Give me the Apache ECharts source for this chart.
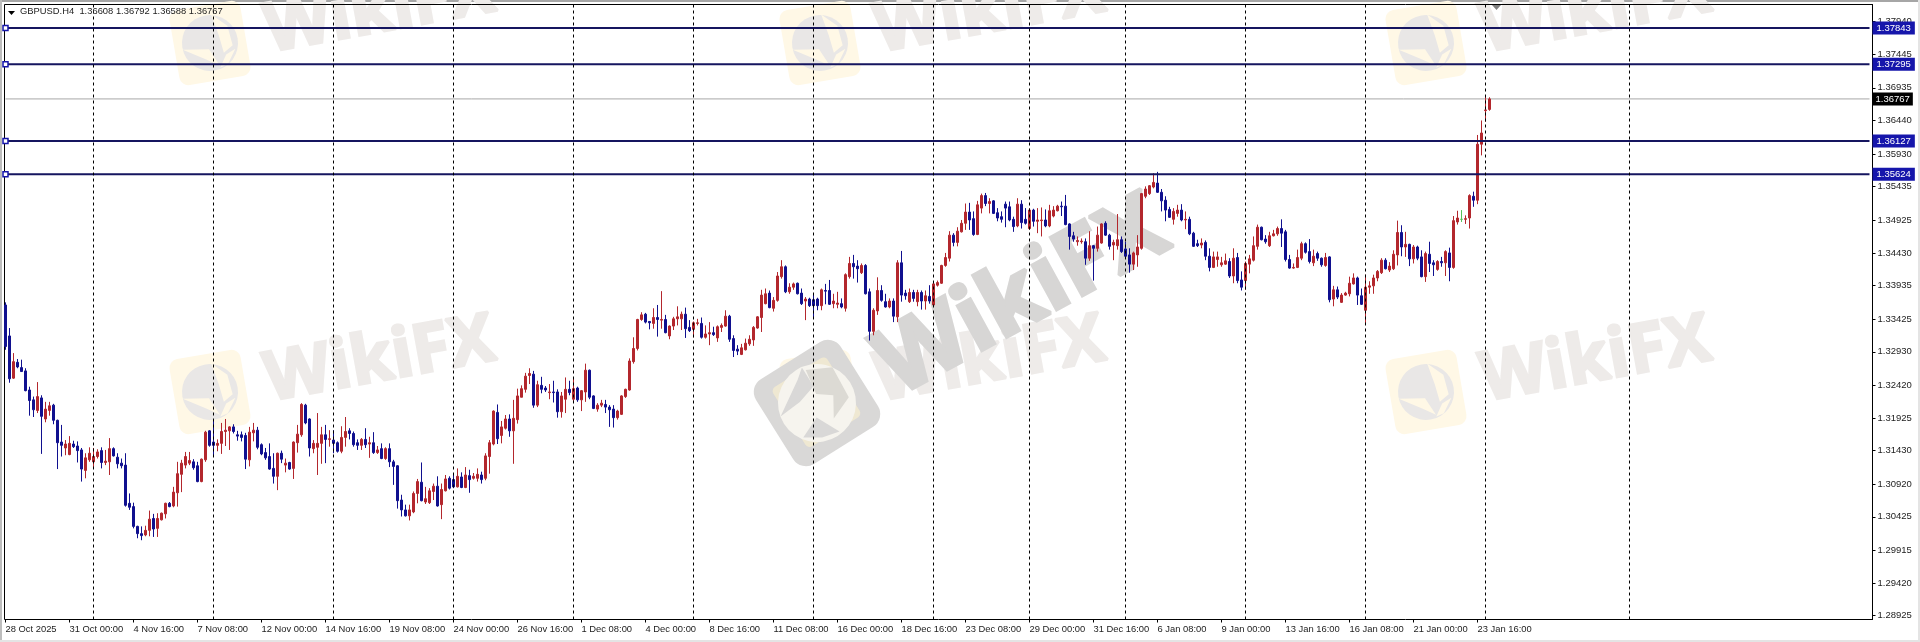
<!DOCTYPE html>
<html>
<head>
<meta charset="utf-8">
<title>GBPUSD.H4</title>
<script src="https://cdn.jsdelivr.net/npm/echarts@6/dist/echarts.min.js"></script>
<style>
  html, body { margin: 0; padding: 0; background: #fff; }
  #main { width: 1920px; height: 642px; }
</style>
</head>
<body>
<div id="main"></div>
<script>
// bars, left to right
const highs = [
1.3368,1.3329,1.3291,1.3282,1.3281,1.3268,1.3240,1.3225,1.3247,1.3227,
1.3217,1.3217,1.3214,1.3190,1.3182,1.3159,1.3165,1.3158,1.3157,1.3147,
1.3139,1.3148,1.3147,1.3145,1.3148,1.3144,1.3162,1.3148,1.3139,1.3131,
1.3139,1.3078,1.3064,1.3029,1.3028,1.3029,1.3052,1.3047,1.3048,1.3049,
1.3064,1.3065,1.3088,1.3126,1.3129,1.3141,1.3141,1.3130,1.3126,1.3131,
1.3173,1.3174,1.3190,1.3160,1.3185,1.3191,1.3180,1.3183,1.3173,1.3172,
1.3170,1.3179,1.3185,1.3179,1.3154,1.3147,1.3154,1.3139,1.3140,1.3143,
1.3131,1.3126,1.3157,1.3182,1.3215,1.3214,1.3192,1.3159,1.3200,1.3179,
1.3182,1.3174,1.3174,1.3157,1.3180,1.3194,1.3177,1.3172,1.3160,1.3162,
1.3177,1.3164,1.3171,1.3150,1.3154,1.3148,1.3154,1.3129,1.3121,1.3076,
1.3061,1.3061,1.3081,1.3100,1.3125,1.3088,1.3086,1.3093,1.3104,1.3093,
1.3106,1.3104,1.3109,1.3116,1.3110,1.3118,1.3114,1.3109,1.3116,1.3111,
1.3139,1.3159,1.3204,1.3213,1.3188,1.3197,1.3198,1.3220,1.3237,1.3242,
1.3261,1.3268,1.3264,1.3249,1.3255,1.3241,1.3244,1.3249,1.3236,1.3232,
1.3254,1.3249,1.3254,1.3240,1.3235,1.3275,1.3266,1.3227,1.3215,1.3220,
1.3220,1.3212,1.3212,1.3205,1.3227,1.3237,1.3283,1.3315,1.3343,1.3353,
1.3352,1.3339,1.3359,1.3364,1.3385,1.3349,1.3333,1.3346,1.3362,1.3354,
1.3360,1.3341,1.3339,1.3343,1.3345,1.3333,1.3338,1.3331,1.3333,1.3336,
1.3356,1.3349,1.3318,1.3303,1.3305,1.3313,1.3318,1.3332,1.3347,1.3387,
1.3389,1.3386,1.3376,1.3414,1.3432,1.3424,1.3397,1.3398,1.3398,1.3389,
1.3376,1.3375,1.3381,1.3375,1.3389,1.3396,1.3402,1.3381,1.3384,1.3374,
1.3412,1.3437,1.3440,1.3432,1.3427,1.3426,1.3389,1.3359,1.3406,1.3394,
1.3381,1.3374,1.3374,1.3432,1.3446,1.3387,1.3389,1.3387,1.3387,1.3386,
1.3386,1.3394,1.3400,1.3401,1.3425,1.3443,1.3476,1.3473,1.3482,1.3493,
1.3518,1.3519,1.3506,1.3522,1.3533,1.3534,1.3526,1.3523,1.3511,1.3506,
1.3521,1.3521,1.3498,1.3526,1.3523,1.3511,1.3511,1.3510,1.3511,1.3512,
1.3509,1.3516,1.3514,1.3516,1.3521,1.3531,1.3488,1.3475,1.3468,1.3465,
1.3465,1.3476,1.3455,1.3483,1.3488,1.3491,1.3472,1.3463,1.3502,1.3468,
1.3460,1.3450,1.3445,1.3470,1.3534,1.3544,1.3546,1.3564,1.3566,1.3540,
1.3529,1.3513,1.3511,1.3516,1.3517,1.3506,1.3498,1.3475,1.3463,1.3465,
1.3462,1.3450,1.3445,1.3445,1.3437,1.3442,1.3435,1.3450,1.3443,1.3415,
1.3430,1.3440,1.3468,1.3486,1.3483,1.3470,1.3475,1.3478,1.3483,1.3494,
1.3478,1.3440,1.3427,1.3448,1.3460,1.3459,1.3464,1.3448,1.3445,1.3436,
1.3443,1.3438,1.3393,1.3392,1.3382,1.3384,1.3407,1.3412,1.3407,1.3389,
1.3410,1.3400,1.3410,1.3417,1.3435,1.3435,1.3429,1.3447,1.3492,1.3485,
1.3475,1.3457,1.3455,1.3454,1.3447,1.3445,1.3460,1.3432,1.3432,1.3437,
1.3447,1.3451,1.3499,1.3507,1.3508,1.3500,1.3532,1.3536,1.3622,1.3644,1.3682,1.36792];

const lows = [
1.3296,1.3246,1.3252,1.3268,1.3263,1.3233,1.3196,1.3194,1.3200,1.3138,
1.3186,1.3196,1.3183,1.3115,1.3134,1.3136,1.3136,1.3147,1.3125,1.3096,
1.3101,1.3126,1.3118,1.3131,1.3116,1.3121,1.3106,1.3134,1.3116,1.3116,
1.3058,1.3053,1.3025,1.3010,1.3007,1.3013,1.3013,1.3012,1.3012,1.3037,
1.3040,1.3057,1.3057,1.3058,1.3080,1.3116,1.3121,1.3114,1.3095,1.3095,
1.3126,1.3149,1.3136,1.3142,1.3138,1.3150,1.3144,1.3169,1.3158,1.3157,
1.3115,1.3119,1.3157,1.3145,1.3136,1.3129,1.3114,1.3093,1.3083,1.3124,
1.3110,1.3114,1.3100,1.3140,1.3164,1.3183,1.3134,1.3139,1.3106,1.3123,
1.3124,1.3149,1.3139,1.3140,1.3139,1.3149,1.3160,1.3149,1.3144,1.3144,
1.3147,1.3132,1.3138,1.3138,1.3130,1.3129,1.3118,1.3091,1.3055,1.3043,
1.3043,1.3037,1.3048,1.3063,1.3066,1.3062,1.3062,1.3068,1.3058,1.3039,
1.3081,1.3084,1.3086,1.3087,1.3086,1.3086,1.3079,1.3099,1.3096,1.3093,
1.3098,1.3108,1.3151,1.3153,1.3154,1.3175,1.3164,1.3123,1.3184,1.3224,
1.3231,1.3244,1.3208,1.3209,1.3230,1.3232,1.3221,1.3216,1.3193,1.3193,
1.3200,1.3227,1.3217,1.3217,1.3203,1.3217,1.3221,1.3206,1.3202,1.3209,
1.3200,1.3179,1.3178,1.3190,1.3197,1.3223,1.3234,1.3275,1.3295,1.3340,
1.3336,1.3327,1.3328,1.3316,1.3328,1.3321,1.3312,1.3326,1.3333,1.3326,
1.3314,1.3323,1.3315,1.3333,1.3313,1.3313,1.3303,1.3317,1.3308,1.3323,
1.3331,1.3308,1.3285,1.3288,1.3288,1.3295,1.3302,1.3302,1.3328,1.3323,
1.3365,1.3359,1.3354,1.3369,1.3404,1.3382,1.3381,1.3387,1.3380,1.3364,
1.3341,1.3361,1.3343,1.3356,1.3356,1.3365,1.3364,1.3359,1.3359,1.3359,
1.3354,1.3404,1.3404,1.3398,1.3411,1.3380,1.3310,1.3318,1.3349,1.3369,
1.3360,1.3359,1.3338,1.3338,1.3369,1.3372,1.3367,1.3369,1.3362,1.3357,
1.3357,1.3366,1.3363,1.3392,1.3396,1.3422,1.3430,1.3453,1.3453,1.3474,
1.3478,1.3478,1.3469,1.3470,1.3503,1.3514,1.3503,1.3502,1.3491,1.3489,
1.3482,1.3491,1.3475,1.3482,1.3480,1.3486,1.3478,1.3483,1.3473,1.3468,
1.3482,1.3482,1.3497,1.3506,1.3499,1.3485,1.3448,1.3460,1.3454,1.3457,
1.3425,1.3431,1.3401,1.3445,1.3457,1.3469,1.3448,1.3432,1.3448,1.3443,
1.3436,1.3413,1.3417,1.3422,1.3448,1.3526,1.3531,1.3541,1.3534,1.3506,
1.3491,1.3496,1.3486,1.3498,1.3491,1.3479,1.3470,1.3452,1.3452,1.3450,
1.3432,1.3415,1.3420,1.3422,1.3422,1.3425,1.3405,1.3397,1.3397,1.3386,
1.3387,1.3412,1.3430,1.3448,1.3462,1.3457,1.3452,1.3468,1.3469,1.3452,
1.3430,1.3419,1.3419,1.3420,1.3432,1.3442,1.3427,1.3423,1.3431,1.3422,
1.3422,1.3368,1.3362,1.3373,1.3367,1.3378,1.3377,1.3395,1.3364,1.3364,
1.3336,1.3381,1.3381,1.3400,1.3411,1.3418,1.3414,1.3417,1.3424,1.3438,
1.3437,1.3423,1.3427,1.3432,1.3406,1.3399,1.3414,1.3408,1.3416,1.3422,
1.3408,1.3400,1.3419,1.3486,1.3490,1.3487,1.3480,1.3513,1.3517,1.3591,1.3642,1.36588];

const opens = [
1.3364,1.3317,1.3253,1.3277,1.3269,1.3264,1.3235,1.3220,1.3204,1.3223,
1.3191,1.3204,1.3212,1.3189,1.3156,1.3147,1.3137,1.3153,1.3150,1.3144,
1.3113,1.3129,1.3126,1.3134,1.3143,1.3125,1.3126,1.3146,1.3133,1.3124,
1.3121,1.3063,1.3058,1.3028,1.3017,1.3015,1.3022,1.3040,1.3025,1.3038,
1.3047,1.3063,1.3059,1.3079,1.3107,1.3121,1.3124,1.3126,1.3120,1.3096,
1.3129,1.3173,1.3156,1.3151,1.3154,1.3172,1.3173,1.3179,1.3167,1.3167,
1.3166,1.3129,1.3170,1.3174,1.3152,1.3140,1.3134,1.3116,1.3104,1.3139,
1.3121,1.3125,1.3116,1.3155,1.3167,1.3212,1.3191,1.3146,1.3148,1.3154,
1.3167,1.3160,1.3159,1.3155,1.3142,1.3163,1.3173,1.3169,1.3155,1.3151,
1.3160,1.3153,1.3155,1.3140,1.3146,1.3131,1.3146,1.3126,1.3120,1.3068,
1.3053,1.3044,1.3050,1.3078,1.3095,1.3065,1.3064,1.3081,1.3089,1.3061,
1.3082,1.3101,1.3099,1.3088,1.3103,1.3087,1.3105,1.3101,1.3101,1.3106,
1.3101,1.3134,1.3153,1.3201,1.3166,1.3177,1.3191,1.3173,1.3190,1.3224,
1.3236,1.3257,1.3259,1.3212,1.3242,1.3238,1.3231,1.3232,1.3232,1.3202,
1.3221,1.3236,1.3221,1.3238,1.3220,1.3232,1.3265,1.3226,1.3206,1.3212,
1.3213,1.3209,1.3206,1.3193,1.3198,1.3225,1.3235,1.3278,1.3298,1.3342,
1.3350,1.3339,1.3336,1.3345,1.3341,1.3342,1.3317,1.3332,1.3343,1.3343,
1.3350,1.3330,1.3327,1.3336,1.3336,1.3315,1.3320,1.3322,1.3314,1.3330,
1.3332,1.3347,1.3313,1.3297,1.3289,1.3296,1.3305,1.3311,1.3329,1.3345,
1.3366,1.3382,1.3359,1.3371,1.3407,1.3422,1.3384,1.3391,1.3397,1.3382,
1.3370,1.3373,1.3372,1.3373,1.3363,1.3386,1.3386,1.3366,1.3365,1.3366,
1.3359,1.3407,1.3427,1.3423,1.3413,1.3424,1.3384,1.3324,1.3355,1.3386,
1.3369,1.3361,1.3370,1.3346,1.3428,1.3382,1.3369,1.3383,1.3369,1.3383,
1.3370,1.3377,1.3364,1.3394,1.3397,1.3424,1.3435,1.3470,1.3459,1.3475,
1.3488,1.3505,1.3495,1.3471,1.3511,1.3530,1.3518,1.3522,1.3504,1.3498,
1.3517,1.3513,1.3494,1.3484,1.3517,1.3494,1.3480,1.3508,1.3491,1.3492,
1.3493,1.3484,1.3499,1.3507,1.3514,1.3514,1.3487,1.3469,1.3460,1.3460,
1.3460,1.3435,1.3454,1.3450,1.3458,1.3488,1.3470,1.3455,1.3454,1.3463,
1.3449,1.3440,1.3426,1.3440,1.3450,1.3529,1.3533,1.3543,1.3549,1.3535,
1.3523,1.3509,1.3494,1.3503,1.3508,1.3493,1.3494,1.3473,1.3457,1.3455,
1.3459,1.3438,1.3421,1.3433,1.3425,1.3426,1.3430,1.3408,1.3436,1.3402,
1.3401,1.3426,1.3432,1.3453,1.3482,1.3464,1.3454,1.3469,1.3472,1.3480,
1.3475,1.3433,1.3420,1.3421,1.3435,1.3457,1.3445,1.3428,1.3442,1.3435,
1.3424,1.3437,1.3373,1.3387,1.3368,1.3379,1.3381,1.3396,1.3405,1.3378,
1.3356,1.3391,1.3393,1.3405,1.3413,1.3432,1.3417,1.3419,1.3440,1.3474,
1.3452,1.3456,1.3434,1.3452,1.3437,1.3407,1.3441,1.3428,1.3418,1.3430,
1.3428,1.3443,1.3421,1.3490,1.3494,1.3494,1.3496,1.3529,1.3523,1.3608,1.3659,1.36608];

const closes = [
1.3301,1.3252,1.3278,1.3270,1.3263,1.3234,1.3219,1.3205,1.3225,1.3195,
1.3206,1.3211,1.3189,1.3155,1.3151,1.3153,1.3154,1.3149,1.3143,1.3115,
1.3132,1.3139,1.3134,1.3141,1.3125,1.3127,1.3146,1.3135,1.3123,1.3120,
1.3060,1.3057,1.3028,1.3017,1.3014,1.3022,1.3039,1.3024,1.3040,1.3048,
1.3063,1.3058,1.3080,1.3108,1.3124,1.3134,1.3128,1.3117,1.3096,1.3130,
1.3171,1.3151,1.3151,1.3154,1.3172,1.3174,1.3179,1.3172,1.3165,1.3163,
1.3130,1.3171,1.3174,1.3148,1.3138,1.3132,1.3115,1.3104,1.3139,1.3130,
1.3124,1.3115,1.3156,1.3168,1.3213,1.3185,1.3147,1.3154,1.3154,1.3167,
1.3160,1.3161,1.3154,1.3142,1.3163,1.3172,1.3169,1.3152,1.3151,1.3160,
1.3152,1.3155,1.3140,1.3144,1.3131,1.3146,1.3126,1.3119,1.3067,1.3053,
1.3044,1.3053,1.3078,1.3096,1.3067,1.3070,1.3082,1.3089,1.3059,1.3084,
1.3100,1.3086,1.3088,1.3104,1.3087,1.3106,1.3099,1.3104,1.3107,1.3099,
1.3135,1.3155,1.3203,1.3161,1.3179,1.3191,1.3173,1.3192,1.3226,1.3237,
1.3256,1.3260,1.3212,1.3243,1.3236,1.3235,1.3232,1.3231,1.3202,1.3226,
1.3236,1.3231,1.3237,1.3220,1.3234,1.3265,1.3224,1.3207,1.3212,1.3215,
1.3209,1.3205,1.3193,1.3203,1.3226,1.3236,1.3279,1.3298,1.3342,1.3349,
1.3338,1.3337,1.3345,1.3342,1.3342,1.3322,1.3332,1.3343,1.3346,1.3350,
1.3328,1.3325,1.3337,1.3337,1.3315,1.3320,1.3322,1.3319,1.3331,1.3333,
1.3347,1.3312,1.3295,1.3294,1.3299,1.3306,1.3312,1.3330,1.3346,1.3379,
1.3381,1.3360,1.3371,1.3408,1.3422,1.3384,1.3391,1.3396,1.3381,1.3366,
1.3373,1.3363,1.3363,1.3363,1.3387,1.3385,1.3365,1.3370,1.3367,1.3361,
1.3410,1.3427,1.3422,1.3419,1.3424,1.3381,1.3324,1.3356,1.3386,1.3371,
1.3361,1.3370,1.3347,1.3428,1.3379,1.3378,1.3383,1.3374,1.3383,1.3370,
1.3378,1.3370,1.3396,1.3398,1.3424,1.3436,1.3470,1.3459,1.3476,1.3488,
1.3505,1.3493,1.3471,1.3516,1.3530,1.3518,1.3521,1.3503,1.3496,1.3494,
1.3511,1.3493,1.3483,1.3517,1.3489,1.3488,1.3508,1.3491,1.3493,1.3493,
1.3484,1.3507,1.3508,1.3514,1.3513,1.3486,1.3468,1.3464,1.3462,1.3461,
1.3435,1.3454,1.3450,1.3470,1.3487,1.3470,1.3453,1.3459,1.3463,1.3445,
1.3438,1.3426,1.3443,1.3452,1.3533,1.3540,1.3545,1.3550,1.3535,1.3522,
1.3508,1.3497,1.3506,1.3508,1.3493,1.3494,1.3472,1.3453,1.3454,1.3458,
1.3438,1.3421,1.3437,1.3437,1.3428,1.3431,1.3408,1.3435,1.3401,1.3391,
1.3427,1.3434,1.3454,1.3482,1.3463,1.3460,1.3469,1.3472,1.3480,1.3473,
1.3433,1.3420,1.3421,1.3436,1.3457,1.3444,1.3430,1.3438,1.3435,1.3425,
1.3436,1.3372,1.3387,1.3376,1.3379,1.3382,1.3397,1.3405,1.3379,1.3365,
1.3391,1.3393,1.3405,1.3415,1.3432,1.3419,1.3423,1.3441,1.3474,1.3452,
1.3456,1.3434,1.3452,1.3435,1.3407,1.3442,1.3427,1.3425,1.3430,1.3428,
1.3445,1.3421,1.3492,1.3496,1.3494,1.3495,1.3530,1.3523,1.3608,1.3625,1.3660,1.36767];

// one tick label every 16 bars
const timeLabels = ['28 Oct 2025','31 Oct 00:00','4 Nov 16:00','7 Nov 08:00','12 Nov 00:00','14 Nov 16:00',
  '19 Nov 08:00','24 Nov 00:00','26 Nov 16:00','1 Dec 08:00','4 Dec 00:00','8 Dec 16:00','11 Dec 08:00',
  '16 Dec 00:00','18 Dec 16:00','23 Dec 08:00','29 Dec 00:00','31 Dec 16:00','6 Jan 08:00','9 Jan 00:00',
  '13 Jan 16:00','16 Jan 08:00','21 Jan 00:00','23 Jan 16:00'];
const priceTicks = [1.37940,1.37445,1.36935,1.36440,1.35930,1.35435,1.34925,1.34430,1.33935,1.33425,
  1.32930,1.32420,1.31925,1.31430,1.30920,1.30425,1.29915,1.29420,1.28925];
const levels = [1.37843,1.37295,1.36127,1.35624];
const lastPrice = 1.36767;
const weekSeparators = [22,52,82,112,142,172,202,232,256,280,310,340,370,406];
const header = 'GBPUSD.H4  1.36608 1.36792 1.36588 1.36767';

const slots = 467; // chart keeps empty room right of the last bar
const labelStep = 16;
const priceMin = 1.28867, priceMax = 1.38200;

const RED = '#b3272d', BLUE = '#10108f', NAVY = '#15155f', LABEL_BLUE = '#1616ab';
const FONT = '"Liberation Sans", Arial, sans-serif';

const categories = [];
for (let i = 0; i < slots; i++) categories.push(i % labelStep === 0 ? (timeLabels[i / labelStep] || '') : '');
const showLabel = (i) => i % labelStep === 0 && i / labelStep < timeLabels.length;
const candles = opens.map((o, i) => [o, closes[i], lows[i], highs[i]]);

// --- watermark ---
function paleLogo(x, y) {
  const cut = '#fff8e6', ink = '#e9e7e6';
  return { type: 'group', x, y, rotation: 0.17, z: 0, silent: true, children: [
    { type: 'rect', shape: { x: -36, y: -38, width: 72, height: 76, r: 9 }, style: { fill: cut } },
    { type: 'circle', shape: { cx: 0, cy: 0, r: 28 }, style: { fill: ink } },
    { type: 'polygon', shape: { points: [[6, -28], [20, -14], [22, 6], [12, 12], [10, -6]] }, style: { fill: cut } },
    { type: 'polygon', shape: { points: [[-28, 2], [-2, 6], [6, 24], [-6, 16]] }, style: { fill: cut } },
    { type: 'polygon', shape: { points: [[14, 14], [24, 10], [14, 24], [6, 26]] }, style: { fill: cut } }
  ] };
}
function paleText(x, y) {
  return { type: 'text', x, y, rotation: 0.18, z: 0, silent: true,
    style: { text: 'WikiFX', fill: '#eeebe9', stroke: '#eeebe9', lineWidth: 3, lineJoin: 'round', font: 'bold 68px "Open Sans", sans-serif', textAlign: 'center', textVerticalAlign: 'middle' } };
}
const watermark = [];
[210, 820, 1426].forEach((lx) => {
  [43, 392].forEach((ly) => {
    watermark.push(paleLogo(lx, ly));
    watermark.push(paleText(lx + 170, ly - 31));
  });
});
watermark.push({ type: 'group', x: 817, y: 403, rotation: 0.56, z: 0, silent: true, children: [
  { type: 'rect', shape: { x: -50, y: -50, width: 100, height: 100, r: 15 }, style: { fill: '#d9d8d7' } },
  { type: 'rect', shape: { x: -32, y: -36, width: 64, height: 70, r: 5 }, style: { fill: '#efe8d2' } },
  { type: 'circle', shape: { cx: 0, cy: 0, r: 39 }, style: { fill: '#f6f4ee' } },
  { type: 'polygon', shape: { points: [[-38, -8], [-4, -30], [6, -38], [6, -16], [-14, -10]] }, style: { fill: '#d9d8d7' } },
  { type: 'polygon', shape: { points: [[8, -34], [32, -22], [30, 12], [6, 22], [18, 2], [4, -8]] }, style: { fill: '#dcdad4' } },
  { type: 'polygon', shape: { points: [[-30, 22], [-8, 12], [4, 36], [-14, 32]] }, style: { fill: '#d9d8d7' } }
] });
watermark.push({ type: 'text', x: 1023, y: 298, rotation: 0.5, z: 0, silent: true,
  style: { text: 'WikiFX', fill: '#d7d6d5', stroke: '#d7d6d5', lineWidth: 4, lineJoin: 'round', font: 'bold 92px "Open Sans", sans-serif', textAlign: 'center', textVerticalAlign: 'middle' } });

// window edge and the small MT4 markers
const chrome = [
  { type: 'rect', shape: { x: 0, y: 0, width: 1920, height: 2 }, style: { fill: '#a6a6a6' }, z: 0, silent: true },
  { type: 'rect', shape: { x: 0, y: 0, width: 2, height: 642 }, style: { fill: '#bdbdbd' }, z: 0, silent: true },
  { type: 'rect', shape: { x: 0, y: 640, width: 1920, height: 2 }, style: { fill: '#e4e4e4' }, z: 0, silent: true },
  { type: 'rect', shape: { x: 1918, y: 0, width: 2, height: 642 }, style: { fill: '#e4e4e4' }, z: 0, silent: true },
  { type: 'polygon', shape: { points: [[8, 11], [15, 11], [11.5, 15]] }, style: { fill: '#000' }, z: 10, silent: true },
  { type: 'polygon', shape: { points: [[1492, 5], [1501, 5], [1496.5, 10]] }, style: { fill: '#808080' }, z: 10, silent: true }
];

const levelSeries = levels.map((p) => ({
  name: 'level ' + p,
  type: 'line',
  xAxisIndex: 1,
  yAxisIndex: 1,
  data: [[0, p], [slots - 1, p]],
  z: 4,
  silent: true,
  symbol: 'rect',
  symbolSize: 5,
  showSymbol: true,
  lineStyle: { color: NAVY, width: 2 },
  itemStyle: { color: '#fff', borderColor: LABEL_BLUE, borderWidth: 1.5 },
  endLabel: {
    show: true,
    distance: 3,
    formatter: () => p.toFixed(5),
    color: '#fff',
    backgroundColor: LABEL_BLUE,
    fontFamily: FONT,
    fontSize: 9.5,
    padding: [2, 4, 1, 4]
  }
}));

const chart = echarts.init(document.getElementById('main'), null, { renderer: 'canvas' });
chart.setOption({
  animation: false,
  backgroundColor: '#fff',
  title: {
    text: header,
    left: 20,
    top: 7,
    padding: 0,
    textStyle: { fontFamily: FONT, fontSize: 9.4, fontWeight: 'normal', color: '#222' }
  },
  graphic: { elements: chrome.concat(watermark) },
  grid: [
    // frame and price scale
    { left: 4.5, top: 4.5, width: 1868, height: 615, show: true, borderColor: '#000', borderWidth: 1, backgroundColor: 'transparent', z: 1 },
    // bars: shifted so that bar centres fall on the MT4 pixel columns
    { left: 3.5, top: 4.5, width: 1868, height: 615 }
  ],
  xAxis: [
    { type: 'category', gridIndex: 0, data: categories, show: false },
    {
      type: 'category',
      gridIndex: 1,
      data: categories,
      axisLine: { show: false },
      axisTick: { show: true, length: 3, interval: showLabel, alignWithLabel: true, lineStyle: { color: '#000' } },
      axisLabel: { show: true, interval: showLabel, align: 'left', margin: 5, hideOverlap: false, fontFamily: FONT, fontSize: 9.4, color: '#222' },
      splitLine: { show: false }
    }
  ],
  yAxis: [
    {
      type: 'value',
      gridIndex: 0,
      position: 'right',
      min: priceMin,
      max: priceMax,
      axisLine: { show: true, lineStyle: { color: '#000' } },
      axisTick: { show: true, length: 3, customValues: priceTicks, lineStyle: { color: '#000' } },
      axisLabel: { show: true, customValues: priceTicks, margin: 5, formatter: (v) => v.toFixed(5), fontFamily: FONT, fontSize: 9.5, color: '#222' },
      splitLine: { show: false }
    },
    { type: 'value', gridIndex: 1, min: priceMin, max: priceMax, show: false, splitLine: { show: false } }
  ],
  series: [
    {
      name: 'separators',
      type: 'line',
      xAxisIndex: 1,
      yAxisIndex: 1,
      data: [],
      z: 1,
      silent: true,
      markLine: {
        silent: true,
        symbol: 'none',
        label: { show: false },
        lineStyle: { color: '#000', type: [3, 3], width: 1 },
        data: weekSeparators.map((i) => ({ xAxis: i }))
      }
    },
    {
      name: 'bid',
      type: 'line',
      xAxisIndex: 1,
      yAxisIndex: 1,
      data: [[0, lastPrice], [slots - 1, lastPrice]],
      z: 2,
      silent: true,
      symbol: 'none',
      lineStyle: { color: '#a8a8a8', width: 1 },
      endLabel: {
        show: true,
        distance: 3,
        formatter: () => lastPrice.toFixed(5),
        color: '#fff',
        backgroundColor: '#000',
        fontFamily: FONT,
        fontSize: 9.5,
        padding: [2, 3, 1, 3]
      }
    },
    {
      name: 'GBPUSD.H4',
      type: 'candlestick',
      xAxisIndex: 1,
      yAxisIndex: 1,
      data: candles,
      barWidth: 3,
      z: 3,
      itemStyle: {
        color: RED,
        color0: BLUE,
        borderColor: RED,
        borderColor0: BLUE,
        borderColorDoji: '#52c25a',
        borderWidth: 1
      }
    }
  ].concat(levelSeries)
});
</script>
</body>
</html>
